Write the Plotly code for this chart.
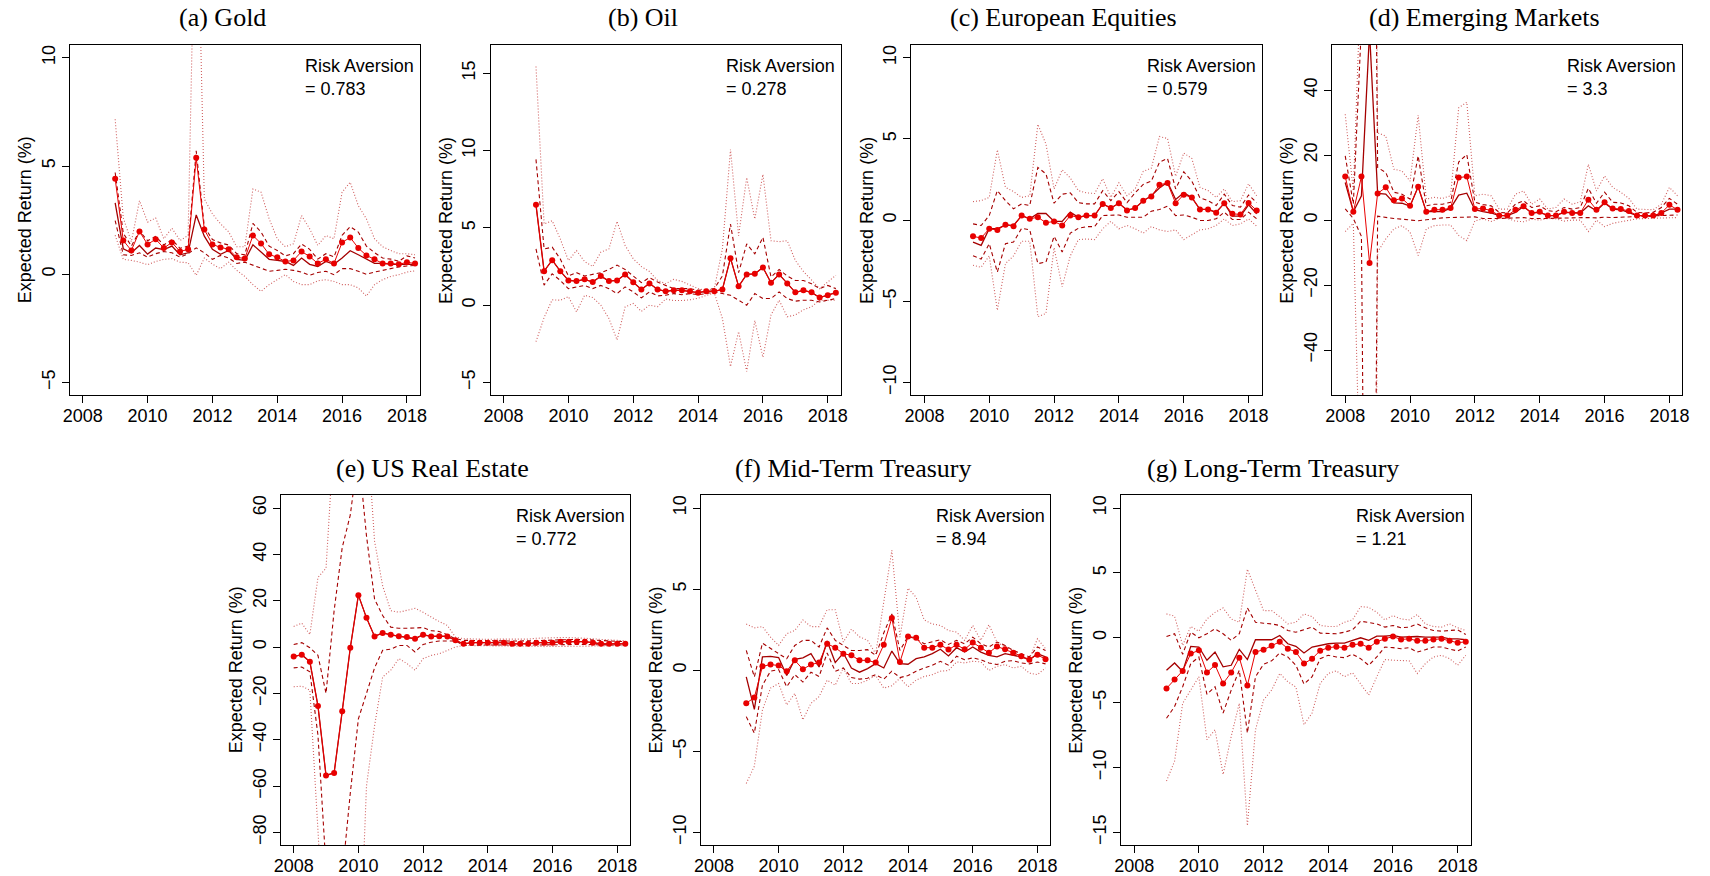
import plotly.graph_objects as go

W, H = 1710, 876

# ---------------- data (quarterly, % expected return) ----------------
gold_start = 2009.0
gold_mean = [4.41, 1.56, 1.10, 1.98, 1.38, 1.62, 1.21, 1.47, 1.05, 1.15, 5.38, 2.07, 1.38, 1.24, 1.16, 0.78, 0.73, 1.79, 1.42, 0.92,
             0.78, 0.59, 0.64, 1.05, 0.82, 0.50, 0.69, 0.50, 1.47, 1.70, 1.21, 0.87, 0.69, 0.50, 0.50, 0.46, 0.55, 0.50]
gold_median = [3.30, 1.18, 0.99, 1.33, 0.93, 1.21, 1.14, 1.30, 0.90, 0.99, 2.74, 1.76, 1.15, 0.92, 1.10, 0.69, 0.64, 1.36, 1.03, 0.69,
               0.64, 0.59, 0.41, 0.75, 0.46, 0.36, 0.59, 0.46, 0.75, 1.09, 0.90, 0.69, 0.50, 0.50, 0.46, 0.46, 0.46, 0.46]
gold_q75 = [4.7, 1.9, 1.3, 2.0, 1.55, 1.75, 1.35, 1.6, 1.2, 1.3, 5.7, 2.2, 1.6, 1.45, 1.35, 0.95, 0.9, 2.35, 1.95, 1.3,
            1.1, 0.85, 0.95, 1.4, 1.15, 0.7, 0.95, 0.8, 1.8, 2.2, 1.95, 1.3, 1.0, 0.75, 0.7, 0.6, 0.85, 0.75]
gold_q25 = [2.48, 0.90, 0.87, 0.99, 0.79, 0.95, 1.05, 0.99, 0.79, 0.95, 1.22, 0.99, 0.69, 0.87, 0.75, 0.5, 0.56, 0.41, 0.26, 0.14,
            0.18, 0.23, 0.18, 0.10, -0.05, 0.08, 0.14, -0.02, 0.26, 0.26, 0.14, 0.0, 0.10, 0.18, 0.23, 0.34, 0.38, 0.41]
gold_q95 = [7.16, 2.6, 1.5, 3.40, 2.41, 2.60, 1.64, 2.13, 1.56, 1.79, 20.0, 3.48, 2.79, 2.33, 1.96, 1.27, 1.27, 3.94, 3.79, 2.56,
            1.64, 1.27, 1.41, 2.71, 2.10, 1.33, 1.79, 1.64, 3.79, 4.25, 3.17, 2.56, 1.64, 1.27, 1.10, 0.95, 0.95, 0.9]
gold_q05 = [1.8, 0.69, 0.64, 0.56, 0.44, 0.59, 0.69, 0.72, 0.56, 0.53, -0.05, 0.75, 0.47, 0.26, 0.56, 0.18, -0.1, -0.48, -0.79, -0.48,
            -0.25, -0.02, -0.33, -0.48, -0.48, -0.30, -0.25, -0.33, -0.48, -0.48, -0.63, -1.01, -0.48, -0.25, -0.1, -0.02, 0.1, 0.16]

oil_start = 2009.0
oil_mean = [6.49, 2.20, 2.91, 2.20, 1.60, 1.56, 1.67, 1.50, 1.88, 1.56, 1.60, 1.99, 1.48, 1.02, 1.41, 1.02, 0.90, 0.96, 0.96, 0.90,
            0.81, 0.90, 0.90, 1.02, 3.04, 1.22, 1.99, 2.03, 2.44, 1.45, 1.99, 1.41, 0.83, 0.96, 0.83, 0.49, 0.64, 0.81]
oil_median = list(oil_mean)
oil_q75 = [9.43, 3.64, 3.75, 2.99, 1.89, 2.10, 1.89, 2.0, 2.10, 2.31, 2.59, 2.31, 1.89, 1.46, 1.78, 1.5, 1.28, 1.07, 1.07, 1.07,
           0.96, 1.02, 1.07, 1.89, 5.25, 2.10, 3.96, 3.32, 4.39, 1.82, 2.31, 1.89, 1.6, 1.6, 1.39, 1.07, 1.28, 1.07]
oil_q25 = [3.64, 1.3, 2.03, 1.60, 1.07, 1.18, 1.28, 1.07, 1.28, 1.07, 0.75, 1.18, 0.86, 0.47, 0.86, 0.6, 0.64, 0.75, 0.68, 0.75,
           0.68, 0.75, 0.86, 0.75, 0.64, 0.32, 0.0, 0.75, 0.43, 0.43, 0.86, 0.43, 0.26, 0.32, 0.32, 0.21, 0.32, 0.43]
oil_q95 = [15.43, 5.25, 5.46, 4.28, 2.89, 3.53, 2.82, 2.50, 3.43, 3.64, 5.42, 3.86, 3.0, 2.5, 2.18, 1.6, 1.39, 1.67, 1.54, 1.28,
           1.07, 0.96, 1.07, 3.64, 10.07, 4.5, 8.25, 5.57, 8.46, 4.17, 4.11, 4.17, 2.89, 2.18, 1.6, 1.07, 1.50, 1.93]
oil_q05 = [-2.36, -0.8, 0.35, 0.32, 0.55, -0.43, 0.64, 0.5, 0.0, -0.86, -2.25, -0.11, 0.11, -0.4, 0.0, -0.1, 0.4, 0.3, 0.3, 0.35,
           0.45, 0.6, 0.8, -0.86, -3.97, -1.71, -4.29, -1.0, -3.37, -0.63, 0.32, -0.75, -0.63, -0.3, -0.1, 0.32, 0.32, 0.32]

eq_start = 2009.5
eq_mean = [-1.0, -1.1, -0.53, -0.6, -0.29, -0.37, 0.28, 0.08, 0.18, -0.16, -0.08, -0.33, 0.28, 0.18, 0.28, 0.28, 1.0, 0.74,
           1.04, 0.6, 0.74, 1.2, 1.45, 2.18, 2.28, 1.04, 1.57, 1.39, 0.66, 0.66, 0.45, 1.04, 0.39, 0.35, 1.06, 0.6]
eq_median = [-1.35, -1.55, -0.53, -0.53, -0.29, -0.33, 0.28, 0.08, 0.41, 0.41, -0.08, -0.08, 0.49, 0.18, 0.28, 0.28, 1.0, 0.74,
             1.04, 0.62, 0.74, 1.2, 1.5, 1.98, 2.33, 1.27, 1.68, 1.39, 0.66, 0.66, 0.49, 1.04, 0.25, 0.25, 0.94, 0.39]
eq_q75 = [-0.23, -0.33, 0.28, 1.82, 1.2, 0.70, 1.0, 0.9, 3.25, 2.85, 1.04, 1.6, 1.68, 1.08, 1.0, 1.0, 1.82, 1.2,
          1.76, 1.08, 1.68, 2.2, 2.4, 3.56, 3.8, 1.92, 2.98, 2.4, 1.37, 1.2, 0.9, 1.6, 0.9, 0.8, 1.55, 1.08]
eq_q25 = [-2.2, -2.4, -1.45, -3.2, -1.45, -1.35, -0.5, -0.6, -2.68, -2.58, -1.0, -1.96, -0.8, -0.5, -0.4, -0.4, 0.28, 0.28,
          0.32, 0.18, 0.18, 0.18, 0.55, 0.65, 0.86, 0.28, 0.32, 0.18, -0.02, -0.02, 0.08, 0.49, 0.04, 0.04, 0.49, 0.08]
eq_q95 = [1.14, 1.2, 1.4, 4.33, 2.02, 1.76, 1.4, 1.5, 5.9, 4.68, 1.92, 3.1, 2.6, 1.82, 1.68, 1.64, 2.55, 1.4,
          2.3, 1.5, 1.92, 3.0, 3.2, 5.15, 5.03, 2.7, 4.13, 3.8, 2.02, 1.82, 1.4, 1.92, 1.14, 1.2, 2.24, 1.5]
eq_q05 = [-2.78, -2.9, -2.2, -5.55, -2.68, -2.2, -1.3, -1.3, -5.95, -5.75, -1.7, -4.1, -2.2, -1.2, -1.16, -1.2, -0.53, -0.08,
          -0.53, -0.33, -0.53, -0.8, -0.4, -0.6, -0.7, -0.6, -1.2, -0.9, -0.6, -0.53, -0.33, 0.08, -0.33, -0.23, 0.08, -0.37]

em_start = 2008.0
em_mean = [13.4, 2.6, 13.4, -13.2, 8.2, 10.1, 6.1, 6.7, 4.4, 10.3, 2.6, 3.2, 3.2, 3.7, 13.1, 13.4, 3.4, 3.6, 2.9, 1.4,
           1.4, 3.2, 4.3, 2.2, 2.6, 1.4, 1.4, 2.6, 2.2, 2.2, 6.3, 3.2, 5.5, 3.6, 3.4, 2.8, 1.4, 1.4, 1.4, 2.2, 4.7, 3.2]
em_median = [11.6, 2.6, 7.5, 58.0, 8.2, 8.0, 5.3, 5.2, 4.3, 10.3, 2.6, 2.6, 2.6, 3.7, 7.7, 8.3, 3.2, 2.6, 2.2, 1.4,
             1.4, 2.4, 4.2, 2.2, 2.4, 1.4, 1.4, 2.4, 2.2, 2.2, 4.4, 2.9, 5.3, 3.4, 3.2, 2.4, 1.4, 1.4, 1.2, 2.2, 3.4, 3.4]
em_q75 = [19.8, 5.0, 60.0, 300.0, 16.2, 14.7, 8.6, 8.0, 6.5, 19.8, 4.4, 4.9, 4.9, 5.5, 17.9, 20.2, 5.5, 4.8, 4.4, 2.4,
          2.2, 4.9, 6.0, 3.9, 4.4, 2.9, 2.6, 3.9, 3.4, 3.9, 9.8, 5.2, 8.6, 5.5, 5.3, 4.4, 2.4, 2.2, 2.4, 3.9, 6.7, 4.9]
em_q25 = [3.5, 0.5, -5.0, -300.0, 1.2, 0.8, 0.5, 0.3, 0.0, -0.2, 0.1, 0.5, 0.7, 0.8, 0.9, 0.8, 1.0, 0.5, 0.4, 0.5,
          0.6, 0.6, 0.8, 0.5, 0.4, 0.5, 0.6, 0.7, 0.6, 0.7, 0.8, 0.7, 0.9, 0.8, 0.9, 1.0, 1.0, 1.1, 1.2, 1.3, 1.5, 1.6]
em_q95 = [32.6, 9.0, 80.0, 400.0, 26.9, 25.9, 15.7, 15.1, 12.0, 32.3, 6.5, 7.0, 6.7, 7.5, 34.6, 36.3, 7.5, 8.0, 7.5, 3.4,
          3.4, 8.0, 9.0, 4.9, 6.5, 3.4, 3.9, 6.5, 4.9, 5.6, 17.2, 9.0, 13.6, 10.1, 8.6, 6.7, 3.4, 3.2, 3.2, 4.9, 10.1, 7.5]
em_q05 = [-3.5, -1.0, -100.0, -400.0, -9.8, -5.8, -2.7, -1.7, -3.7, -10.9, -2.7, -1.7, -1.5, -1.5, -4.7, -6.3, -0.2, 0.4, -0.4, 0.5,
          0.5, -0.3, -0.5, 0.3, 0.0, 0.5, 0.4, -0.3, 0.0, 0.0, -3.5, 0.0, -2.0, -1.0, -0.5, 0.0, 0.4, 0.5, 0.6, 0.5, 0.7, 0.8]

re_start = 2008.0
re_mean = [-4.1, -3.3, -6.3, -25.4, -55.4, -54.3, -27.7, -0.3, 22.4, 12.6, 4.6, 6.1, 5.3, 4.7, 4.3, 3.6, 5.3, 4.6, 4.7, 4.6,
           2.9, 1.4, 1.9, 1.9, 1.9, 1.9, 1.9, 1.4, 1.4, 1.4, 1.9, 1.9, 1.9, 2.3, 2.3, 2.3, 2.3, 1.9, 1.4, 1.4, 1.4, 1.4]
re_median = list(re_mean)
re_q75 = [1.1, 1.9, -0.3, -3.6, -20.0, 15.7, 42.9, 57.0, 84.0, 48.0, 20.7, 13.6, 8.6, 8.1, 8.1, 8.1, 8.4, 7.1, 6.7, 5.3,
          3.6, 2.9, 2.8, 2.8, 2.8, 2.8, 2.7, 2.6, 2.6, 2.7, 3.0, 3.1, 3.1, 3.2, 3.3, 3.3, 3.2, 3.0, 2.6, 2.5, 2.4, 2.3]
re_q25 = [-9.0, -8.6, -10.7, -38.0, -95.0, -110.0, -99.0, -63.0, -31.0, -20.0, -9.0, -1.4, -0.9, 0.7, 0.7, -2.1, 1.1, 2.1, 2.6, 2.6,
          2.6, 0.8, 0.9, 0.9, 0.9, 0.9, 0.9, 0.8, 0.8, 0.8, 0.9, 1.0, 1.0, 1.1, 1.1, 1.1, 1.1, 1.0, 0.8, 0.8, 0.8, 0.8]
re_q95 = [8.9, 10.3, 5.4, 30.0, 34.0, 105.0, 150.0, 180.0, 160.0, 98.0, 45.7, 26.4, 15.7, 15.0, 15.7, 16.7, 15.0, 12.9, 11.0, 9.3,
          4.3, 3.6, 3.4, 3.3, 3.3, 3.4, 3.4, 3.3, 3.3, 3.4, 3.8, 4.0, 4.0, 4.1, 4.1, 4.0, 4.0, 3.6, 3.3, 3.0, 2.8, 2.7]
re_q05 = [-17.1, -16.9, -18.6, -90.0, -160.0, -200.0, -200.0, -200.0, -150.0, -60.0, -34.0, -12.9, -10.0, -5.0, -7.1, -10.0, -5.0, -3.6, -2.9, -1.4,
          0.0, 0.7, 0.6, 0.6, 0.6, 0.5, 0.5, 0.4, 0.4, 0.5, 0.3, 0.2, 0.2, 0.3, 0.3, 0.3, 0.4, 0.5, 0.5, 0.5, 0.6, 0.6]

mt_start = 2009.0
mt_mean = [-2.04, -1.68, 0.24, 0.35, 0.29, -0.06, 0.61, 0.06, 0.35, 0.47, 1.63, 1.39, 1.02, 0.92, 0.61, 0.61, 0.47, 1.57, 3.22, 0.51,
           2.08, 2.0, 1.39, 1.39, 1.57, 1.27, 1.57, 1.29, 1.71, 1.39, 1.08, 1.47, 1.29, 1.08, 0.86, 0.65, 0.96, 0.67]
mt_median = [-0.41, -2.41, 0.82, 0.86, 0.78, -0.33, 0.67, 0.76, 1.02, 0.2, 1.8, 0.47, 1.06, 0.14, -0.12, 0.1, 0.41, 0.14, 1.18, 0.41,
             0.37, 0.71, 0.82, 1.02, 1.29, 0.88, 1.39, 1.12, 1.43, 1.12, 0.92, 0.82, 1.02, 0.92, 0.82, 0.65, 1.02, 0.82]
mt_q75 = [1.22, -0.41, 1.67, 1.33, 1.02, 0.71, 1.53, 1.84, 1.84, 1.43, 2.61, 1.84, 1.53, 1.22, 1.22, 1.27, 0.92, 2.3, 3.47, 1.22,
          2.08, 1.94, 1.63, 1.74, 1.88, 1.59, 1.84, 1.63, 2.04, 1.63, 1.43, 1.74, 1.53, 1.22, 1.02, 0.82, 1.43, 1.22]
mt_q25 = [-2.86, -3.88, -0.92, -0.06, 0.04, -1.02, -0.27, -0.73, -0.12, -0.39, 1.06, -0.06, 0.14, -0.45, -0.55, -0.49, -0.27, -0.55, -0.06, -0.45,
          -0.33, -0.06, 0.14, 0.31, 0.55, 0.31, 0.86, 0.65, 0.76, 0.65, 0.45, 0.35, 0.55, 0.59, 0.45, 0.39, 0.51, 0.39]
mt_q95 = [2.85, 2.61, 2.69, 2.04, 1.53, 2.25, 2.45, 3.1, 2.69, 2.69, 3.73, 3.73, 1.74, 2.53, 2.06, 1.84, 1.02, 4.29, 7.39, 2.04,
          5.06, 4.49, 3.1, 2.85, 2.76, 2.45, 2.35, 1.84, 2.76, 1.84, 2.8, 1.74, 1.43, 1.2, 0.82, 0.71, 1.94, 1.33]
mt_q05 = [-6.98, -5.92, -2.45, -1.1, -0.82, -2.14, -1.43, -3.06, -2.04, -1.63, -0.61, -0.92, 0.14, -0.82, -0.82, -0.61, -0.33, -1.1, -0.96, -0.49,
          -1.02, -0.61, -0.39, -0.27, -0.06, -0.02, 0.51, 0.45, 0.55, 0.51, -0.02, 0.24, 0.35, 0.14, 0.24, -0.18, -0.27, 0.14]

lt_start = 2009.0
lt_mean = [-3.9, -3.21, -2.55, -1.22, -0.97, -2.68, -2.1, -3.52, -2.68, -1.53, -3.67, -1.1, -0.92, -0.61, -0.31, -0.84, -1.1, -1.99, -1.61, -0.99,
           -0.76, -0.69, -0.76, -0.54, -0.46, -0.76, -0.31, -0.08, 0.1, -0.13, -0.08, -0.23, -0.23, -0.13, -0.08, -0.23, -0.38, -0.31]
lt_median = [-2.5, -1.94, -2.6, -0.66, -0.71, -1.73, -1.1, -2.24, -2.12, -0.89, -1.68, -0.15, -0.15, -0.15, 0.18, -0.46, -0.66, -1.17, -0.71, -0.59,
             -0.46, -0.41, -0.41, -0.2, 0.0, -0.2, 0.13, 0.13, 0.18, 0.05, 0.1, 0.1, 0.05, 0.05, 0.05, -0.08, -0.08, -0.15]
lt_q75 = [0.1, 0.31, -1.27, 0.43, 0.0, 0.31, 0.69, 0.31, -0.2, 0.31, 2.3, 1.2, 1.12, 1.07, 0.95, 0.56, 0.43, 0.61, 0.82, 0.36,
          0.31, 0.31, 0.43, 0.61, 1.28, 1.2, 1.07, 0.82, 0.95, 0.77, 0.82, 1.07, 0.77, 0.56, 0.51, 0.56, 0.61, 0.26]
lt_q25 = [-6.2, -5.3, -3.77, -1.99, -1.48, -4.36, -3.77, -5.8, -4.03, -2.5, -7.34, -3.0, -2.04, -1.78, -1.17, -1.48, -2.12, -3.57, -3.0, -1.61,
          -1.35, -1.48, -1.53, -1.27, -1.61, -2.12, -1.48, -0.71, -0.76, -0.84, -0.76, -1.1, -0.92, -0.71, -0.71, -0.84, -1.02, -0.71]
lt_q95 = [1.84, 1.66, -0.58, 0.87, 0.51, 1.45, 1.96, 2.3, 1.45, 1.2, 5.28, 3.63, 2.09, 2.09, 1.63, 1.07, 1.2, 1.84, 1.63, 0.95,
          0.87, 0.87, 1.2, 1.38, 2.4, 2.35, 1.96, 1.38, 1.71, 1.45, 1.38, 1.79, 1.07, 0.87, 0.82, 1.07, 0.77, 0.56]
lt_q05 = [-11.04, -9.51, -5.05, -4.03, -3.0, -7.85, -7.09, -10.53, -7.6, -5.05, -14.48, -7.09, -4.8, -4.03, -2.75, -3.39, -3.8, -6.7, -5.8, -3.52,
          -2.75, -2.55, -3.0, -2.7, -3.52, -4.41, -3.0, -1.68, -1.73, -1.78, -1.78, -2.75, -1.99, -1.48, -1.35, -1.61, -2.12, -1.35]

titles = ["(a) Gold", "(b) Oil", "(c) European Equities", "(d) Emerging Markets",
          "(e) US Real Estate", "(f) Mid-Term Treasury", "(g) Long-Term Treasury"]
risk_aversion = ["0.783", "0.278", "0.579", "3.3", "0.772", "8.94", "1.21"]
x_ticks = [2008, 2010, 2012, 2014, 2016, 2018]
y_ticks = [[-5, 0, 5, 10], [-5, 0, 5, 10, 15], [-10, -5, 0, 5, 10], [-40, -20, 0, 20, 40],
           [-80, -60, -40, -20, 0, 20, 40, 60], [-10, -5, 0, 5, 10], [-15, -10, -5, 0, 5, 10]]
y_limits = [(-5, 10), (-5, 16), (-10, 10), (-50, 50), (-80, 60), (-10, 10), (-15, 10)]
x_limits = (2008, 2018)

series = [
    (gold_start, gold_mean, gold_median, gold_q25, gold_q75, gold_q05, gold_q95),
    (oil_start, oil_mean, oil_median, oil_q25, oil_q75, oil_q05, oil_q95),
    (eq_start, eq_mean, eq_median, eq_q25, eq_q75, eq_q05, eq_q95),
    (em_start, em_mean, em_median, em_q25, em_q75, em_q05, em_q95),
    (re_start, re_mean, re_median, re_q25, re_q75, re_q05, re_q95),
    (mt_start, mt_mean, mt_median, mt_q25, mt_q75, mt_q05, mt_q95),
    (lt_start, lt_mean, lt_median, lt_q25, lt_q75, lt_q05, lt_q95),
]

# ---------------- layout geometry (pixels) ----------------
boxes = []
for k in range(4):
    l = 63.3 + 424.3 * k
    boxes.append((l, 45.0, l + 353.0, 397.3))
for k in range(3):
    l = 276.0 + 423.7 * k
    boxes.append((l, 497.3, l + 352.3, 849.3))

DARK = "rgb(165,0,0)"
BRIGHT = "rgb(232,0,0)"
LIGHT = "rgb(208,95,95)"
NUMFONT = "Liberation Sans, Arial, sans-serif"
SERIF = "Liberation Serif, Times New Roman, serif"


def px(x):
    return x / W


def py(y):
    return 1 - y / H


def expand(lo, hi):
    d = (hi - lo) * 0.04
    return [lo - d, hi + d]


fig = go.Figure()
annotations = []
layout = dict(width=W, height=H, margin=dict(l=0, r=0, t=0, b=0),
              paper_bgcolor="white", plot_bgcolor="white", showlegend=False)

for i, (start, mean, med, q25, q75, q05, q95) in enumerate(series):
    n = len(mean)
    t = [start + 0.25 * j for j in range(n)]
    ax = "" if i == 0 else str(i + 1)
    xref, yref = "x" + ax, "y" + ax
    l, tp, r, b = boxes[i]

    common = dict(x=t, xaxis=xref, yaxis=yref, hoverinfo="skip")
    for q in (q95, q05):
        fig.add_trace(go.Scatter(y=q, mode="lines", line=dict(color=LIGHT, width=1.1, dash="1px,2px"), **common))
    for q in (q75, q25):
        fig.add_trace(go.Scatter(y=q, mode="lines", line=dict(color=DARK, width=1.1, dash="4px,3px"), **common))
    fig.add_trace(go.Scatter(y=med, mode="lines", line=dict(color=DARK, width=1.3), **common))
    fig.add_trace(go.Scatter(y=mean, mode="lines+markers", line=dict(color=BRIGHT, width=1.0),
                             marker=dict(color=BRIGHT, size=6), **common))

    axis_common = dict(showgrid=False, zeroline=False, showline=True, mirror=True,
                       linecolor="black", linewidth=1, ticks="outside", ticklen=7,
                       tickwidth=1, tickcolor="black",
                       tickfont=dict(family=NUMFONT, size=18, color="black"))
    layout["xaxis" + ax] = dict(domain=[px(l), px(r)], range=expand(*x_limits),
                                tickvals=x_ticks, anchor=yref, ticklabelstandoff=-3, **axis_common)
    layout["yaxis" + ax] = dict(domain=[py(b), py(tp)], range=expand(*y_limits[i]),
                                tickvals=y_ticks[i], tickangle=-90, anchor=xref, **axis_common)

    cx = (l + r) / 2
    annotations.append(dict(text=titles[i], x=px(cx - 23), y=py(tp - 27), xref="paper", yref="paper",
                            xanchor="center", yanchor="middle", showarrow=False,
                            font=dict(family=SERIF, size=26, color="black")))
    annotations.append(dict(text="Expected Return (%)", x=px(l - 45), y=py((tp + b) / 2),
                            xref="paper", yref="paper", textangle=-90, xanchor="center",
                            yanchor="middle", showarrow=False,
                            font=dict(family=NUMFONT, size=18, color="black")))
    annotations.append(dict(text="Risk Aversion<br>= " + risk_aversion[i], x=px(l + 235), y=py(tp + 33),
                            xref="paper", yref="paper", xanchor="left", yanchor="middle", align="left",
                            showarrow=False, font=dict(family=NUMFONT, size=18, color="black")))

layout["annotations"] = annotations
fig.update_layout(**layout)
fig.write_html("out.html", config={"displayModeBar": False},
               post_script="document.body.style.margin='0px';document.body.style.overflow='hidden';")
